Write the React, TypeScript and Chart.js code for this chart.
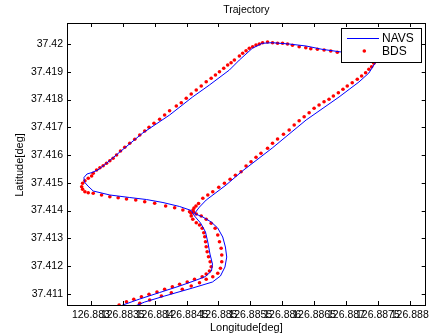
import { useEffect, useRef } from 'react';
import { Chart, registerables } from 'chart.js';

Chart.register(...registerables);

const FONT = '"Liberation Sans", Arial, Helvetica, sans-serif';

const chartTitle = 'Trajectory';
const xAxisTitle = 'Longitude[deg]';
const yAxisTitle = 'Latitude[deg]';
const seriesNames = ['NAVS', 'BDS'];

const xMin = 126.882625;
const xMax = 126.88825;
const yMin = 37.410595;
const yMax = 37.420757;

const xTickValues = [126.883, 126.8835, 126.884, 126.8845, 126.885, 126.8855, 126.886, 126.8865, 126.887, 126.8875, 126.888];
const xTickLabels = ['126.883', '126.8835', '126.884', '126.8845', '126.885', '126.8855', '126.886', '126.8865', '126.887', '126.8875', '126.888'];
const yTickValues = [37.411, 37.412, 37.413, 37.414, 37.415, 37.416, 37.417, 37.418, 37.419, 37.42];
const yTickLabels = ['37.411', '37.412', '37.413', '37.414', '37.415', '37.416', '37.417', '37.418', '37.419', '37.42'];

const navsLon = [
  126.883578, 126.883844, 126.884156, 126.884594, 126.884906, 126.885031, 126.885102, 126.885130, 126.885109, 126.885067,
  126.884989, 126.884886, 126.884755, 126.884625, 126.884703, 126.884808, 126.885120, 126.885375, 126.885844, 126.886375,
  126.886891, 126.887203, 126.887359, 126.887438, 126.887500, 126.887484, 126.887359, 126.887125, 126.886891, 126.886625,
  126.886375, 126.886109, 126.885844, 126.885688, 126.885531, 126.885328, 126.885172, 126.884859, 126.884594, 126.884234,
  126.883813, 126.883453, 126.883250, 126.883109, 126.883016, 126.882938, 126.882891, 126.882898, 126.882953, 126.883036,
  126.883297, 126.883609, 126.883870, 126.884130, 126.884391, 126.884573, 126.884625, 126.884719, 126.884797, 126.884836,
  126.884867, 126.884906, 126.884891, 126.884797, 126.884656, 126.884391, 126.884078, 126.883766, 126.883500, 126.883391,
];
const navsLat = [
  37.410450, 37.410703, 37.410919, 37.411207, 37.411423, 37.411640, 37.411964, 37.412324, 37.412685, 37.413045,
  37.413369, 37.413586, 37.413766, 37.413892, 37.414126, 37.414378, 37.414919, 37.415423, 37.416252, 37.417261,
  37.418090, 37.418631, 37.418955, 37.419243, 37.419459, 37.419568, 37.419604, 37.419658, 37.419723, 37.419809,
  37.419928, 37.420000, 37.420047, 37.420025, 37.419845, 37.419423, 37.419063, 37.418523, 37.418090, 37.417441,
  37.416793, 37.416108, 37.415712, 37.415460, 37.415369, 37.415315, 37.415189, 37.415027, 37.414883, 37.414703,
  37.414559, 37.414468, 37.414396, 37.414288, 37.414144, 37.414000, 37.413802, 37.413550, 37.413225, 37.412829,
  37.412432, 37.412072, 37.411820, 37.411622, 37.411495, 37.411279, 37.411045, 37.410811, 37.410595, 37.410486,
];

const bdsLon = [
  126.883766, 126.883922, 126.884105, 126.884261, 126.884433, 126.884573, 126.884703, 126.884808, 126.884911, 126.884989,
  126.885031, 126.885052, 126.885052, 126.885042, 126.885016, 126.884989, 126.884948, 126.884886, 126.884808, 126.884730,
  126.884652, 126.884609, 126.884602, 126.884617, 126.884648, 126.884688, 126.884755, 126.884833, 126.884911, 126.885005,
  126.885094, 126.885183, 126.885266, 126.885355, 126.885433, 126.885511, 126.885589, 126.885667, 126.885770, 126.885848,
  126.885927, 126.886020, 126.886109, 126.886188, 126.886266, 126.886344, 126.886422, 126.886500, 126.886578, 126.886656,
  126.886734, 126.886802, 126.886880, 126.886953, 126.887020, 126.887098, 126.887177, 126.887245, 126.887308, 126.887359,
  126.887402, 126.887438, 126.887477, 126.887469, 126.887375, 126.887250, 126.887125, 126.886995, 126.886864, 126.886761,
  126.886656, 126.886552, 126.886448, 126.886370, 126.886266, 126.886161, 126.886083, 126.886005, 126.885927, 126.885848,
  126.885770, 126.885692, 126.885641, 126.885589, 126.885536, 126.885484, 126.885433, 126.885380, 126.885328, 126.885250,
  126.885198, 126.885145, 126.885083, 126.885016, 126.884953, 126.884886, 126.884808, 126.884730, 126.884652, 126.884573,
  126.884495, 126.884417, 126.884339, 126.884234, 126.884156, 126.884078, 126.883989, 126.883911, 126.883844, 126.883766,
  126.883688, 126.883609, 126.883531, 126.883464, 126.883402, 126.883348, 126.883297, 126.883245, 126.883192, 126.883141,
  126.883089, 126.883036, 126.883011, 126.882958, 126.882906, 126.882870, 126.882855, 126.882870, 126.882906, 126.882958,
  126.883036, 126.883167, 126.883297, 126.883427, 126.883558, 126.883703, 126.883844, 126.884000, 126.884172, 126.884313,
  126.884442, 126.884547, 126.884573, 126.884573, 126.884598, 126.884652, 126.884703, 126.884745, 126.884770, 126.884786,
  126.884797, 126.884808, 126.884823, 126.884844, 126.884870, 126.884886, 126.884859, 126.884808, 126.884745, 126.884625,
  126.884511, 126.884391, 126.884277, 126.884156, 126.884036, 126.883911, 126.883792, 126.883672, 126.883558, 126.883442,
];
const bdsLat = [
  37.410656, 37.410775, 37.410919, 37.411038, 37.411160, 37.411279, 37.411398, 37.411521, 37.411614, 37.411737,
  37.411917, 37.412155, 37.412396, 37.412638, 37.412876, 37.413117, 37.413359, 37.413539, 37.413683, 37.413802,
  37.413874, 37.413946, 37.414018, 37.414090, 37.414162, 37.414252, 37.414440, 37.414559, 37.414678, 37.414836,
  37.414980, 37.415124, 37.415268, 37.415398, 37.415604, 37.415759, 37.415917, 37.416061, 37.416241, 37.416422,
  37.416577, 37.416746, 37.416901, 37.417081, 37.417236, 37.417380, 37.417524, 37.417683, 37.417802, 37.417921,
  37.418007, 37.418126, 37.418245, 37.418368, 37.418487, 37.418605, 37.418728, 37.418847, 37.418966, 37.419088,
  37.419182, 37.419305, 37.419441, 37.419568, 37.419604, 37.419622, 37.419640, 37.419665, 37.419701, 37.419748,
  37.419784, 37.419809, 37.419831, 37.419867, 37.419903, 37.419953, 37.420000, 37.420025, 37.420025, 37.420047,
  37.420072, 37.420047, 37.420000, 37.419964, 37.419903, 37.419845, 37.419759, 37.419665, 37.419568, 37.419423,
  37.419326, 37.419243, 37.419124, 37.419002, 37.418883, 37.418764, 37.418641, 37.418487, 37.418342, 37.418198,
  37.418043, 37.417885, 37.417766, 37.417596, 37.417441, 37.417287, 37.417142, 37.416998, 37.416865, 37.416721,
  37.416566, 37.416422, 37.416277, 37.416144, 37.416000, 37.415881, 37.415795, 37.415701, 37.415614, 37.415542,
  37.415460, 37.415340, 37.415243, 37.415160, 37.415074, 37.414980, 37.414858, 37.414764, 37.414678, 37.414641,
  37.414620, 37.414559, 37.414497, 37.414461, 37.414414, 37.414378, 37.414317, 37.414259, 37.414162, 37.414101,
  37.414018, 37.413957, 37.413899, 37.413802, 37.413683, 37.413560, 37.413478, 37.413359, 37.413200, 37.413056,
  37.412876, 37.412696, 37.412515, 37.412335, 37.412155, 37.411975, 37.411820, 37.411712, 37.411614, 37.411521,
  37.411423, 37.411341, 37.411254, 37.411160, 37.411063, 37.410980, 37.410894, 37.410800, 37.410713, 37.410595,
];

const NAVS_COLOR = '#0000ff';
const BDS_COLOR = '#ff0000';
const DOT_RADIUS = 1.8;

const decorPlugin = {
  id: 'matlabDecor',
  afterDraw(chart: any) {
    const { ctx, chartArea } = chart;
    const { left, right, top, bottom } = chartArea;
    const xs = chart.scales.x;
    const ys = chart.scales.y;
    ctx.save();
    ctx.strokeStyle = '#000';
    ctx.lineWidth = 1;
    ctx.beginPath();
    const tl = 4;
    xTickValues.forEach((v) => {
      const px = Math.round(xs.getPixelForValue(v)) + 0.5;
      ctx.moveTo(px, bottom);
      ctx.lineTo(px, bottom - tl);
      ctx.moveTo(px, top);
      ctx.lineTo(px, top + tl);
    });
    yTickValues.forEach((v) => {
      const py = Math.round(ys.getPixelForValue(v)) + 0.5;
      ctx.moveTo(left, py);
      ctx.lineTo(left + tl, py);
      ctx.moveTo(right, py);
      ctx.lineTo(right - tl, py);
    });
    ctx.stroke();
    ctx.strokeRect(Math.round(left) + 0.5, Math.round(top) + 0.5, Math.round(right - left) - 1, Math.round(bottom - top));

    // legend
    const lx = 341.5, ly = 28.5, lw = 80, lh = 34;
    ctx.fillStyle = '#fff';
    ctx.fillRect(lx, ly, lw, lh);
    ctx.strokeStyle = '#000';
    ctx.lineWidth = 1;
    ctx.strokeRect(lx, ly, lw, lh);
    ctx.strokeStyle = NAVS_COLOR;
    ctx.beginPath();
    ctx.moveTo(347, 38.5);
    ctx.lineTo(379, 38.5);
    ctx.stroke();
    ctx.fillStyle = BDS_COLOR;
    ctx.beginPath();
    ctx.arc(364.3, 51, DOT_RADIUS, 0, Math.PI * 2);
    ctx.fill();
    ctx.fillStyle = '#000';
    ctx.font = `12px ${FONT}`;
    ctx.textAlign = 'left';
    ctx.textBaseline = 'middle';
    ctx.fillText(seriesNames[0], 382, 38.5);
    ctx.fillText(seriesNames[1], 382, 51.5);

    const cx = (left + right) / 2;
    ctx.font = `10.5px ${FONT}`;
    ctx.textAlign = 'center';
    ctx.fillText(chartTitle, cx, 10);
    ctx.font = `11px ${FONT}`;
    ctx.fillText(xAxisTitle, cx, 327.5);
    ctx.translate(19.5, 165);
    ctx.rotate(-Math.PI / 2);
    ctx.fillText(yAxisTitle, 0, 0);
    ctx.restore();
  },
};

export default function App() {
  const ref = useRef<HTMLCanvasElement>(null);
  useEffect(() => {
    if (!ref.current) return;
    const navsData = navsLon.map((x, i) => ({ x, y: navsLat[i] }));
    const bdsData = bdsLon.map((x, i) => ({ x, y: bdsLat[i] }));
    const chart = new Chart(ref.current, {
      type: 'scatter',
      data: {
        datasets: [
          {
            label: seriesNames[0],
            data: navsData,
            showLine: true,
            borderColor: NAVS_COLOR,
            backgroundColor: NAVS_COLOR,
            borderWidth: 1,
            pointRadius: 0,
            tension: 0,
          },
          {
            label: seriesNames[1],
            data: bdsData,
            showLine: false,
            borderWidth: 0,
            backgroundColor: BDS_COLOR,
            pointBackgroundColor: BDS_COLOR,
            pointBorderWidth: 0,
            pointRadius: DOT_RADIUS,
          },
        ],
      },
      options: {
        responsive: false,
        animation: false,
        events: [],
        layout: { padding: { top: 23, right: 6, left: 0, bottom: 0 } },
        plugins: { legend: { display: false }, title: { display: false }, tooltip: { enabled: false } },
        scales: {
          x: {
            type: 'linear',
            position: 'bottom',
            min: xMin,
            max: xMax,
            grid: { display: false, drawTicks: false },
            border: { display: false },
            afterBuildTicks: (s: any) => {
              s.ticks = xTickValues.map((value) => ({ value }));
            },
            afterFit: (s: any) => {
              s.height = 31;
            },
            ticks: {
              autoSkip: false,
              maxRotation: 0,
              minRotation: 0,
              padding: 4,
              color: '#000',
              font: { family: FONT, size: 10.5 },
              callback: (_v: any, i: number) => xTickLabels[i],
            },
          },
          y: {
            type: 'linear',
            position: 'left',
            min: yMin,
            max: yMax,
            grid: { display: false, drawTicks: false },
            border: { display: false },
            afterBuildTicks: (s: any) => {
              s.ticks = yTickValues.map((value) => ({ value }));
            },
            afterFit: (s: any) => {
              s.width = 67;
            },
            ticks: {
              autoSkip: false,
              padding: 4,
              color: '#000',
              font: { family: FONT, size: 10.5 },
              callback: (_v: any, i: number) => yTickLabels[i],
            },
          },
        },
      },
      plugins: [decorPlugin],
    });
    return () => chart.destroy();
  }, []);
  return (
    <div style={{ position: 'absolute', left: 0, top: 0, width: 433, height: 336, background: '#fff' }}>
      <canvas ref={ref} width={433} height={336} style={{ display: 'block', width: 433, height: 336 }} />
    </div>
  );
}
